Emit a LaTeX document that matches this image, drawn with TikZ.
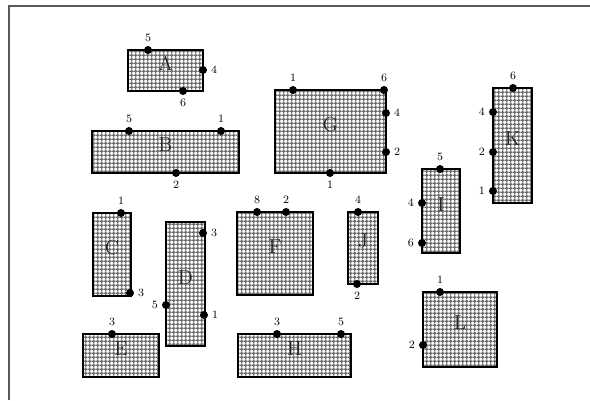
\documentclass[tikz,border=0pt]{standalone}
\usepackage{tikz}
\usetikzlibrary{fit,patterns.meta}

\tikzdeclarepattern{name=mesh,type=uncolored,
  bounding box={(0,0) and (3pt,3pt)},tile size={(3pt,3pt)},
  code={\draw[line width=1.1pt] (0,1.5pt)--(3pt,1.5pt) (1.5pt,0)--(1.5pt,3pt);}}

\begin{document}
\begin{tikzpicture}[x=0.025cm,y=-0.025cm,font=\footnotesize,
 module/.style={draw=black,line width=1.7pt,inner sep=0pt,
   fill=white,pattern={mesh},pattern color=gray!85!black,
   font=\Large,text=black!85},
 term/.style={circle,fill=black,inner sep=0pt,minimum size=0.2cm},
 num/.style={font=\footnotesize,inner sep=1.5pt,label distance=1pt}]
\useasboundingbox (0,0) rectangle (590,400);
% Page frame (only top and left edges show).
\draw[gray!70!black,line width=1.5pt] (9,400)--(9,6)--(590,6);

% Modules to be placed on the board.
\foreach \n/\xa/\ya/\xb/\yb in {A/128/50/203/91, B/92/131/239/173,
  G/275/90/386/173, K/493/88/532/203, I/422/169/460/253,
  C/93/213/131/296, D/166/222/205/346, E/83/334/159/377,
  F/237/212/313/295, J/348/212/378/284, H/238/334/351/377,
  L/423/292/497/367}
  \node[module,fit={(\xa,\ya) (\xb,\yb)}] (\n) {\n};

% Terminals with their net numbers.
\foreach \p/\x/\y/\side/\t in {A1/148/50/above/5, A2/203/70/right/4,
  A3/183/91/below/6, B1/129/131/above/5, B2/221/131/above/1,
  B3/176/173/below/2, G1/293/90/above/1, G2/384/90/above/6,
  G3/386/113/right/4, G4/386/152/right/2, G5/330/173/below/1,
  K1/513/88/above/6, K2/493/112/left/4, K3/493/152/left/2,
  K4/493/191/left/1, I1/440/169/above/5, I2/422/203/left/4,
  I3/422/243/left/6, C1/121/213/above/1, C2/130/293/right/3,
  D1/203/233/right/3, D2/166/305/left/5, D3/204/315/right/1,
  E1/112/334/above/3, F1/257/212/above/8, F2/286/212/above/2,
  J1/358/212/above/4, J2/357/284/below/2, H1/277/334/above/3,
  H2/341/334/above/5, L1/440/292/above/1, L2/423/345/left/2}
  \node[term,label={[num]\side:\t}] (\p) at (\x,\y) {};
\end{tikzpicture}
\end{document}
